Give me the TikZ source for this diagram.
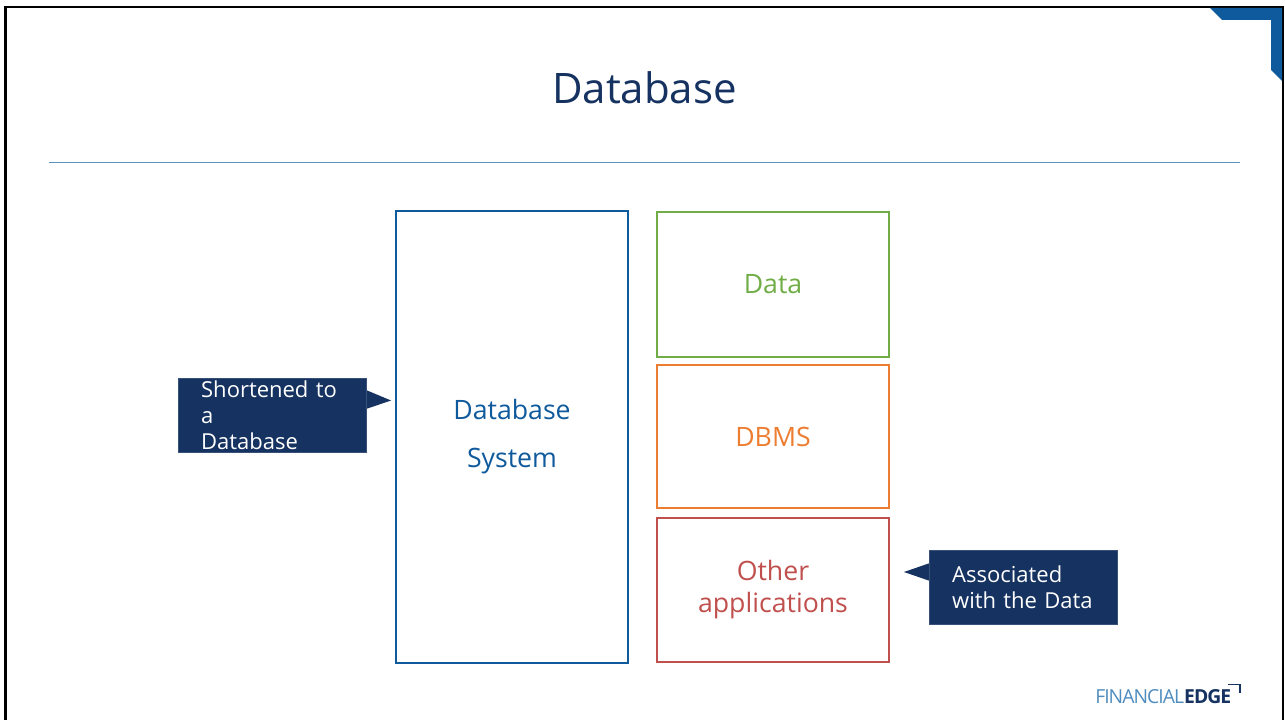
\documentclass[tikz,border=0pt]{standalone}
\usepackage{fontspec}
\setmainfont{Open Sans}
\definecolor{navy}{HTML}{153260}
\definecolor{blueline}{HTML}{0F5A9C}
\definecolor{rulecol}{HTML}{5B93BE}
\definecolor{greenc}{HTML}{70AD47}
\definecolor{orangec}{HTML}{ED7D31}
\definecolor{redc}{HTML}{C0504D}
\definecolor{logoblue}{HTML}{4F8DBF}
\tikzset{
  px/.style={x=0.75pt,y=-0.75pt},
  panel/.style={draw,line width=1.5pt,fill=white,inner sep=0pt,align=center,anchor=center},
  callout/.style={fill=navy,draw=navy!85!white,line width=0.4pt,text=white,inner sep=0pt,minimum width=141pt,minimum height=55.5pt,
    align=left,font=\fontsize{16.5pt}{19.5pt}\selectfont,text width=107pt},
  big/.style={font=\fontsize{20pt}{24pt}\selectfont},
}
\begin{document}
\begin{tikzpicture}[px]
\useasboundingbox (0,0) rectangle (1285,720);
\fill[white] (0,0) rectangle (1285,720);
% frame
\draw[black,line width=2pt] (5.5,720) -- (5.5,7) -- (1283,7) -- (1283,720);
% corner
\fill[blueline] (1210,8) -- (1222,20) -- (1271,20) -- (1271,70) -- (1282,81) -- (1282,8) -- cycle;
% title
\node[text=navy,font=\fontsize{31.5pt}{36pt}\selectfont] (title) at (644.5,88) {Database};
\coordinate (ruleL) at (49,163);
\coordinate (ruleR) at (1240,163);
\draw[rulecol,line width=0.75pt] (ruleL) -- (ruleR);
% boxes
\node[panel,big,draw=blueline,text=blueline,minimum width=174pt,minimum height=339pt,font=\fontsize{20pt}{36pt}\selectfont] (system) at (512,437) {Database\\System};
\node[panel,big,draw=greenc,text=greenc,minimum width=174pt,minimum height=108pt] (data) at (773,284.5) {Data};
\node[panel,big,draw=orangec,text=orangec,minimum width=174pt,minimum height=107pt] (dbms) at (773,436.5) {DBMS};
\node[panel,big,draw=redc,text=redc,minimum width=174pt,minimum height=108pt] (other) at (773,590) {Other\\applications};
% callouts
\coordinate (tipA) at (391,400.5);
\coordinate (tipB) at (904,572);
\fill[navy] (366,390) -- (tipA) -- (366,409) -- cycle;
\fill[navy] (930,563) -- (tipB) -- (930,581) -- cycle;
\node[callout] (noteA) at (272.5,415.5) {Shortened to a\\Database};
\node[callout] (noteB) at (1023.5,587.5) {Associated\\with the Data};
% logo
\node[anchor=base west,inner sep=0pt,font=\fontsize{14.5pt}{16pt}\selectfont] (logo) at (1095,703.5)
  {\addfontfeature{LetterSpace=-5}\textcolor{logoblue}{FINANCIAL}\textcolor{navy}{\bfseries EDGE}};
\draw[navy,line width=1pt] (1228,684.5) -- (1240,684.5) -- (1240,693);
\end{tikzpicture}
\end{document}
